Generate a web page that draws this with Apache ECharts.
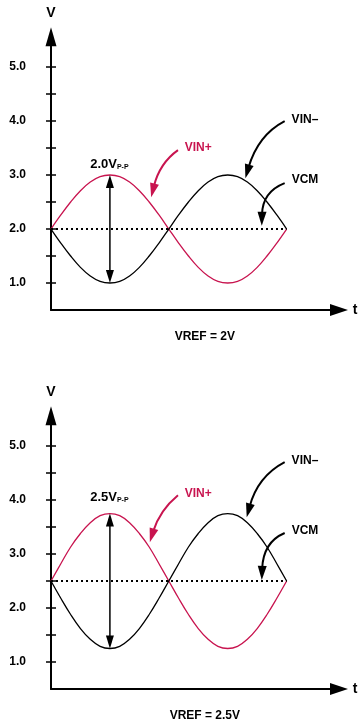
<!DOCTYPE html>
<html><head><meta charset="utf-8">
<script src="https://cdn.jsdelivr.net/npm/echarts@6/dist/echarts.min.js"></script>
<style>html,body{margin:0;padding:0;background:#fff}#c{width:359px;height:728px}</style>
</head><body><div id="c"></div>
<script>
// ---- data ----
const phase = [0,15,30,45,60,75,90,105,120,135,150,165,180,195,210,225,240,255,270,285,300,315,330,345,360];
const vinPlus1  = [2.00,2.26,2.50,2.71,2.87,2.97,3.00,2.97,2.87,2.71,2.50,2.26,2.00,1.74,1.50,1.29,1.13,1.03,1.00,1.03,1.13,1.29,1.50,1.74,2.00];
const vinMinus1 = [2.00,1.74,1.50,1.29,1.13,1.03,1.00,1.03,1.13,1.29,1.50,1.74,2.00,2.26,2.50,2.71,2.87,2.97,3.00,2.97,2.87,2.71,2.50,2.26,2.00];
const vcm1 = [2.0, 2.0];
const vinPlus2  = [2.50,2.82,3.13,3.38,3.58,3.71,3.75,3.71,3.58,3.38,3.13,2.82,2.50,2.18,1.88,1.62,1.42,1.29,1.25,1.29,1.42,1.62,1.88,2.18,2.50];
const vinMinus2 = [2.50,2.18,1.88,1.62,1.42,1.29,1.25,1.29,1.42,1.62,1.88,2.18,2.50,2.82,3.13,3.38,3.58,3.71,3.75,3.71,3.58,3.38,3.13,2.82,2.50];
const vcm2 = [2.5, 2.5];
const vcmSpan = [0, 360];
const yTicks = [1,1.5,2,2.5,3,3.5,4,4.5,5];
const yLabels = [1,2,3,4,5];
const ppMain = ['2.0V', '2.5V'];
const ppSub = 'P-P';
const ppRange1 = [1.0, 3.0];
const ppRange2 = [1.25, 3.75];
const vrefLabels = ['VREF = 2V', 'VREF = 2.5V'];

// ---- style ----
const RED = '#c8144f';
const FONT = "'Liberation Sans', Arial, Helvetica, sans-serif";
const chart = echarts.init(document.getElementById('c'), null, {renderer: 'canvas'});

function xAxisOf(gi) {
  return {
    gridIndex: gi, type: 'value', min: 0, max: 440,
    axisLine: {show: true, onZero: false, symbol: ['none', 'triangle'], symbolSize: [12, 18], lineStyle: {color: '#000', width: 2}},
    axisTick: {show: false}, axisLabel: {show: false}, splitLine: {show: false}
  };
}
function yAxesOf(gi) {
  return [{
    gridIndex: gi, type: 'value', min: 0.5, max: 5.56, position: 'left',
    axisLine: {show: true, onZero: false, symbol: ['none', 'triangle'], symbolSize: [11, 19], lineStyle: {color: '#000', width: 2}},
    axisTick: {show: true, customValues: yTicks, length: 5, lineStyle: {color: '#000', width: 1.5}},
    axisLabel: {show: true, customValues: yLabels, formatter: v => Number(v).toFixed(1), color: '#000',
      fontWeight: 'bold', fontSize: 12, fontFamily: FONT, margin: 25},
    splitLine: {show: false}
  }, {
    gridIndex: gi, type: 'value', min: 0.5, max: 5.56, position: 'left', offset: 0,
    axisLine: {show: false},
    axisTick: {show: true, inside: true, customValues: yTicks, length: 5, lineStyle: {color: '#000', width: 1.5}},
    axisLabel: {show: false}, splitLine: {show: false}
  }];
}
function curve(xi, yi, vals, color) {
  return {type: 'line', xAxisIndex: xi, yAxisIndex: yi, data: phase.map((p, i) => [p, vals[i]]),
    smooth: 0.4, symbol: 'none', showSymbol: false, silent: true, animation: false,
    lineStyle: {color: color, width: 1.3}};
}
function dotted(xi, yi, vals) {
  return {type: 'line', xAxisIndex: xi, yAxisIndex: yi, data: vcmSpan.map((p, i) => [p, vals[i]]),
    symbol: 'none', showSymbol: false, silent: true, animation: false,
    lineStyle: {color: '#000', width: 2, type: [2, 3], cap: 'butt'}};
}

chart.setOption({
  animation: false,
  backgroundColor: '#fff',
  grid: [
    {left: 51, right: 20, top: 36.8, bottom: 418},
    {left: 51, right: 20, top: 415.8, bottom: 39}
  ],
  xAxis: [xAxisOf(0), xAxisOf(1)],
  yAxis: [...yAxesOf(0), ...yAxesOf(1)],
  series: [
    curve(0, 0, vinPlus1, RED),
    curve(0, 0, vinMinus1, '#000'),
    dotted(0, 0, vcm1),
    curve(1, 2, vinPlus2, RED),
    curve(1, 2, vinMinus2, '#000'),
    dotted(1, 2, vcm2)
  ]
});

// ---- annotations (anchored in data coordinates: [phase, volts]) ----
const annos = [
  {grid: 0, range: ppRange1, ppAt: [90, 3.2], main: ppMain[0], vref: vrefLabels[0],
   labels: [{text: 'VIN+', at: [225, 3.5], color: RED}, {text: 'VIN\u2013', at: [388, 4.02]}, {text: 'VCM', at: [388, 2.91]}],
   arrows: [
     {pts: [[194, 3.46], [166, 3.22], [153, 2.59]], color: RED},
     {pts: [[357, 4.00], [316, 3.74], [297, 2.94]]},
     {pts: [[357, 2.85], [323, 2.69], [322, 2.06]]}
   ]},
  {grid: 1, range: ppRange2, ppAt: [90, 4.05], main: ppMain[1], vref: vrefLabels[1],
   labels: [{text: 'VIN+', at: [225, 4.11], color: RED}, {text: 'VIN\u2013', at: [388, 4.72]}, {text: 'VCM', at: [388, 3.43]}],
   arrows: [
     {pts: [[194, 4.09], [166, 3.81], [151, 3.22]], color: RED},
     {pts: [[357, 4.70], [316, 4.44], [299, 3.68]]},
     {pts: [[357, 3.39], [324, 3.22], [322, 2.52]]}
   ]}
];

function px(gi, p) { return chart.convertToPixel({gridIndex: gi}, p); }
function head(tip, from, len, w, color) {
  const dx = tip[0] - from[0], dy = tip[1] - from[1];
  const d = Math.hypot(dx, dy) || 1, ux = dx / d, uy = dy / d;
  const b = [tip[0] - ux * len, tip[1] - uy * len];
  return {type: 'polygon', silent: true, z: 10,
    shape: {points: [tip, [b[0] - uy * w / 2, b[1] + ux * w / 2], [b[0] + uy * w / 2, b[1] - ux * w / 2]]},
    style: {fill: color, stroke: null}};
}
function text(t, x, y, font, color, align, va) {
  return {type: 'text', silent: true, z: 10, x: x, y: y,
    style: {text: t, font: font, fill: color || '#000', align: align || 'center', verticalAlign: va || 'middle'}};
}

const els = [];
annos.forEach(a => {
  const g = a.grid;
  // axis names
  const top = px(g, [0, 5.56]);
  els.push(text('V', top[0], top[1] - 24, 'bold 14px ' + FONT, '#000'));
  const xe = px(g, [440, 0.5]);
  els.push(text('t', xe[0] + 16, xe[1], 'bold 14px ' + FONT, '#000'));
  // VREF caption
  const vr = px(g, [235, 0.0]);
  els.push(text(a.vref, vr[0], vr[1], 'bold 12px ' + FONT, '#000'));
  // peak-to-peak double arrow
  const lo = px(g, [90, a.range[0]]), hi = px(g, [90, a.range[1]]);
  const L = 13;
  els.push({type: 'line', silent: true, z: 9, shape: {x1: lo[0], y1: lo[1] - L + 2, x2: hi[0], y2: hi[1] + L - 2},
    style: {stroke: '#000', lineWidth: 1.5}});
  els.push(head(lo, hi, L, 8, '#000'));
  els.push(head(hi, lo, L, 8, '#000'));
  // pp label
  const pp = px(g, a.ppAt);
  els.push(text(a.main, pp[0] + 7, pp[1], 'bold 13px ' + FONT, '#000', 'right', 'middle'));
  els.push(text(ppSub, pp[0] + 7, pp[1] + 3, 'bold 7px ' + FONT, '#000', 'left', 'middle'));
  // labels
  a.labels.forEach(l => {
    const p = px(g, l.at);
    els.push(text(l.text, p[0], p[1], 'bold 12px ' + FONT, l.color || '#000'));
  });
  // curved arrows
  a.arrows.forEach(ar => {
    const s = px(g, ar.pts[0]), c = px(g, ar.pts[1]), t = px(g, ar.pts[2]);
    const color = ar.color || '#000';
    const len = 14;
    const dx = t[0] - c[0], dy = t[1] - c[1], d = Math.hypot(dx, dy);
    const e = [t[0] - dx / d * (len - 3), t[1] - dy / d * (len - 3)];
    els.push({type: 'bezierCurve', silent: true, z: 9,
      shape: {x1: s[0], y1: s[1], x2: e[0], y2: e[1], cpx1: c[0], cpy1: c[1]},
      style: {stroke: color, lineWidth: 2, fill: null}});
    els.push(head(t, c, len, 9, color));
  });
});
chart.setOption({graphic: {elements: els}});
</script>
</body></html>
